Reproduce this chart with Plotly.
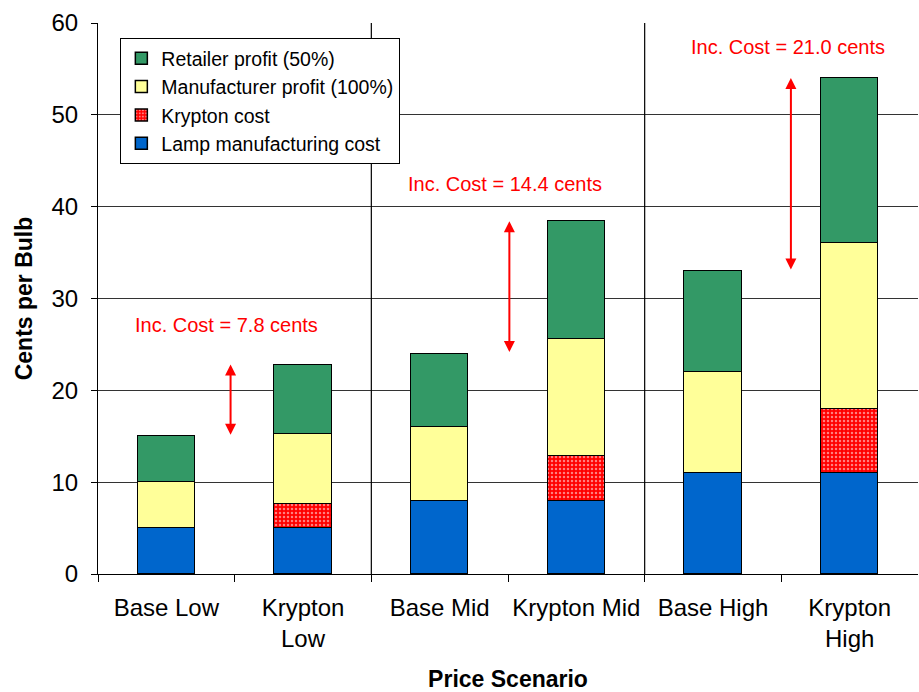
import plotly.graph_objects as go

# Scenario categories and stacked cost components (cents per bulb)
categories = ["Base Low", "Krypton<br>Low", "Base Mid", "Krypton Mid", "Base High", "Krypton<br>High"]
lamp_cost = [5, 5, 8, 8, 11, 11]
krypton_cost = [0, 2.6, 0, 4.8, 0, 7.0]
manufacturer_profit = [5, 7.6, 8, 12.8, 11, 18.0]
retailer_profit = [5, 7.6, 8, 12.8, 11, 18.0]

# Incremental cost between base and krypton versions of each price level
inc_labels = ["Inc. Cost = 7.8 cents", "Inc. Cost = 14.4 cents", "Inc. Cost = 21.0 cents"]
arrow_x = [0.47, 2.51, 4.57]
label_x = [0.44, 2.48, 4.55]
label_y = [27.1, 42.5, 57.4]

xpos = list(range(len(categories)))
totals = [a + b + c + d for a, b, c, d in zip(lamp_cost, krypton_cost, manufacturer_profit, retailer_profit)]

font_family = "Liberation Sans, Arial, sans-serif"
line = dict(color="black", width=1.5)
bar_w = 0.42

fig = go.Figure()
fig.add_bar(x=xpos, y=lamp_cost, name="Lamp manufacturing cost", width=bar_w,
            marker=dict(color="#0066CC", line=line))
fig.add_bar(x=xpos, y=krypton_cost, name="Krypton cost", width=bar_w,
            marker=dict(color="#FF0000", line=line,
                        pattern=dict(shape=".", fgcolor="white", bgcolor="#FF0000",
                                     size=4, solidity=0.3, fillmode="overlay")))
fig.add_bar(x=xpos, y=manufacturer_profit, name="Manufacturer profit (100%)", width=bar_w,
            marker=dict(color="#FFFF99", line=line))
fig.add_bar(x=xpos, y=retailer_profit, name="Retailer profit (50%)", width=bar_w,
            marker=dict(color="#339966", line=line))

# Separators between price levels
for xv in [1.5, 3.5]:
    fig.add_shape(type="line", x0=xv, x1=xv, y0=0, y1=60, xref="x", yref="y",
                  line=dict(color="black", width=1.2), layer="above")

# Double-headed arrows spanning base total to krypton total
for i, ax in enumerate(arrow_x):
    lo = totals[2 * i]
    hi = totals[2 * i + 1]
    fig.add_annotation(x=ax, y=hi, ax=ax, ay=lo, xref="x", yref="y", axref="x", ayref="y",
                       text="", showarrow=True, arrowhead=2, arrowside="end+start",
                       arrowsize=1.1, arrowwidth=2, arrowcolor="#FF0000")
    fig.add_annotation(x=label_x[i], y=label_y[i], xref="x", yref="y", text=inc_labels[i],
                       showarrow=False, font=dict(color="#FF0000", size=20, family=font_family))

fig.update_layout(
    barmode="stack",
    width=919, height=692,
    margin=dict(l=98, r=1, t=23, b=118),
    plot_bgcolor="white", paper_bgcolor="white",
    font=dict(family=font_family, color="black", size=24),
    bargap=0,
    legend=dict(x=0.027, y=0.973, xanchor="left", yanchor="top", traceorder="reversed",
                bgcolor="white", bordercolor="black", borderwidth=1.2,
                font=dict(size=19.5), tracegroupgap=0, itemwidth=30),
    showlegend=True,
)
fig.update_xaxes(
    range=[-0.5, 5.5], tickmode="array", tickvals=xpos, ticktext=categories,
    ticks="", showgrid=False, showline=True, linecolor="black", linewidth=1.2,
    tickfont=dict(size=24), ticklabelstandoff=12,
    minor=dict(tickmode="array", tickvals=[-0.5, 0.5, 1.5, 2.5, 3.5, 4.5], ticks="outside",
               ticklen=7, tickcolor="black", tickwidth=1.2, showgrid=False),
    title=dict(text="<b>Price Scenario</b>", font=dict(size=23), standoff=23),
    zeroline=False,
)
fig.update_yaxes(
    range=[0, 60], tickvals=[0, 10, 20, 30, 40, 50, 60], ticks="outside", ticklen=6,
    tickcolor="black", tickwidth=1.2, showline=True, linecolor="black", linewidth=1.2,
    showgrid=True, gridcolor="#333333", gridwidth=1, zeroline=False,
    tickfont=dict(size=24), ticklabelstandoff=8,
    title=dict(text="<b>Cents per Bulb</b>", font=dict(size=23), standoff=12),
)

fig.write_html("out.html")
